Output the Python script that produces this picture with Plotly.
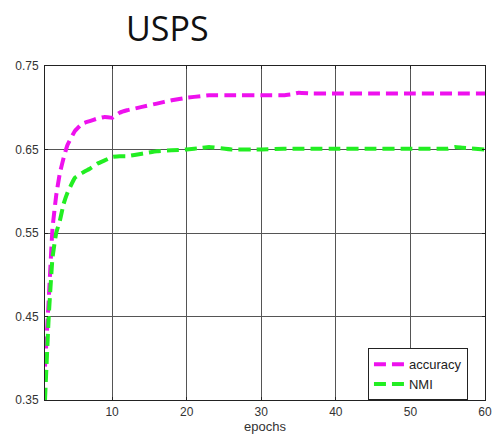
import plotly.graph_objects as go

epochs = [1, 1.5, 2, 2.5, 3, 3.5, 4, 5, 6, 7, 8, 9, 10, 11, 12, 14, 16, 18, 20, 22, 23, 26, 30, 33, 34, 35, 37, 40, 45, 50, 55, 56, 57, 60]
accuracy = [0.39, 0.47, 0.555, 0.595, 0.622, 0.640, 0.655, 0.672, 0.681, 0.684, 0.687, 0.689, 0.688, 0.694, 0.697, 0.701, 0.705, 0.709, 0.712, 0.714, 0.715, 0.715, 0.715, 0.715, 0.716, 0.718, 0.717, 0.717, 0.717, 0.717, 0.717, 0.717, 0.717, 0.717]
nmi = [0.35, 0.45, 0.52, 0.55, 0.565, 0.585, 0.598, 0.616, 0.622, 0.627, 0.633, 0.637, 0.641, 0.642, 0.642, 0.645, 0.648, 0.649, 0.650, 0.652, 0.653, 0.650, 0.650, 0.651, 0.651, 0.651, 0.651, 0.651, 0.651, 0.651, 0.651, 0.653, 0.652, 0.650]
yticks = [0.35, 0.45, 0.55, 0.65, 0.75]
xticks = [10, 20, 30, 40, 50, 60]

fig = go.Figure()
fig.add_trace(go.Scatter(x=epochs, y=accuracy, mode="lines", name="accuracy",
                         line=dict(color="#ee11ee", width=4, dash="12px,6px", shape="spline", smoothing=0.3)))
fig.add_trace(go.Scatter(x=epochs, y=nmi, mode="lines", name="NMI",
                         line=dict(color="#22ee22", width=4, dash="12px,6px", shape="spline", smoothing=0.3)))

axis_common = dict(showgrid=True, gridcolor="#555555", gridwidth=1, showline=True, linecolor="#222222",
                   linewidth=1, mirror="allticks", ticks="inside", ticklen=3, tickcolor="#222222",
                   zeroline=False, automargin=False,
                   tickfont=dict(family="Liberation Sans, Arial", size=12, color="#333333"))

fig.update_xaxes(range=[1, 60], tickvals=xticks, ticklabelstandoff=1,
                 title=dict(text="epochs", standoff=2,
                            font=dict(family="Liberation Sans, Arial", size=13, color="#333333")), **axis_common)
fig.update_yaxes(range=[0.35, 0.75], tickvals=yticks, ticktext=["0.35", "0.45", "0.55", "0.65", "0.75"],
                 ticklabelstandoff=3, **axis_common)

fig.update_layout(
    width=492, height=437,
    margin=dict(l=45, r=7, t=66, b=37),
    paper_bgcolor="white", plot_bgcolor="white",
    title=dict(text="USPS", x=0.34, xanchor="center", y=0.933, yanchor="middle",
               font=dict(family="Open Sans, Liberation Sans", size=34, color="#111111")),
    legend=dict(x=0.734, y=0.155, xanchor="left", yanchor="top", bgcolor="white",
                bordercolor="#222222", borderwidth=1, font=dict(family="Liberation Sans, Arial", size=13, color="#222222"),
                tracegroupgap=0, itemwidth=30),
    showlegend=True,
)

fig.write_html("out.html", config={"displayModeBar": False},
               post_script="document.body.style.margin='0';document.body.style.overflow='hidden';")
